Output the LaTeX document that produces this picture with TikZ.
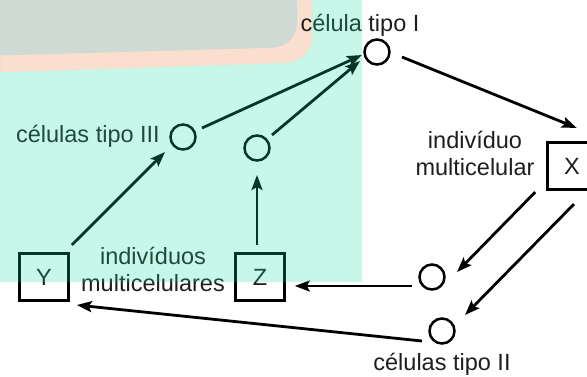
\documentclass[tikz,border=0pt]{standalone}
\usepackage{fontspec}
\setmainfont{Liberation Sans}
\usetikzlibrary{arrows.meta,calc}

\definecolor{mintov}{RGB}{26,218,159}
\definecolor{boardgray}{RGB}{206,218,211}
\definecolor{boardrim}{RGB}{250,222,206}
\definecolor{ink}{RGB}{30,30,30}

\tikzset{
    cel/.style={circle, draw, line width=2.5pt, minimum size=25pt, inner sep=0pt},
    ind/.style={rectangle, draw, line width=2.6pt, minimum width=49pt, minimum height=47.5pt, inner sep=0pt, text=ink},
    lbl/.style={text=ink, align=center, inner sep=0pt},
    seta/.style={line width=2.8pt, -{Stealth[length=15pt, width=11pt, inset=3pt]}}
}

\begin{document}
\begin{tikzpicture}[x=1pt, y=-1pt, font=\fontsize{23.5}{26.5}\selectfont]
        \useasboundingbox (0, 0) rectangle (587, 376);
        \clip (0, 0) rectangle (587, 376);

        % quadro no canto
        \fill[boardrim, rounded corners=26pt] (-20, -20) -- (312, -20) -- (312, 62) -- (-20, 73) -- cycle;
        \fill[boardgray, rounded corners=24pt] (-20, -20) -- (297, -20) -- (297, 47) -- (-20, 56) -- cycle;

        % celulas
        \node[cel] (cI) at (377, 52) {};
        \node[cel] (cIII) at (183, 137) {};
        \node[cel] (cIIIb) at (257, 148) {};
        \node[cel] (cIIa) at (432, 277) {};
        \node[cel] (cII) at (442, 331) {};

        % individuos
        \node[ind] (X) at (572, 166) {X};
        \node[ind] (Y) at (44, 277) {Y};
        \node[ind] (Z) at (260, 277) {Z};

        \node[lbl, anchor=base] (tI) at (360, 31) {célula tipo I};
        \node[lbl, anchor=base east] (tIII) at (160, 142) {células tipo III};
        \node[lbl, anchor=base] (tII) at (442, 370) {células tipo II};
        \node[lbl, anchor=base] (tX) at (475, 175) {indivíduo\\multicelular};
        \node[lbl, anchor=base] (tYZ) at (153, 291) {indivíduos\\multicelulares};

        \draw[seta] ($(cIII)+(19, -9)$) -- ($(cI)+(-15, 3)$);
        \draw[seta] ($(cIIIb)+(15, -13)$) -- ($(cI)+(-17, 9)$);
        \draw[seta] ($(Y.north east)+(2, -7)$) -- ($(cIII)+(-18, 15)$);
        \draw[seta] ($(Z.north)+(-3, -7)$) -- ($(cIIIb)+(0, 27)$);
        \draw[seta] ($(cI)+(25, 5)$) -- ($(X.north east)+(-21, -13)$);
        \draw[seta] ($(X.south west)+(-11, 1)$) -- ($(cIIa)+(25, -5)$);
        \draw[seta] ($(X.south)+(2, 13)$) -- ($(cII)+(23, -16)$);
        \draw[seta] ($(cIIa)+(-20, 9)$) -- ($(Z.east)+(9, 9)$);
        \draw[seta] ($(cII)+(-20, 10)$) -- ($(Y.south east)+(7, 3)$);

        % area verde por cima
        \fill[mintov, opacity=.24, even odd rule] (0, 0) rectangle (362, 282)
            [rounded corners=26pt] (-20, -20) -- (312, -20) -- (312, 62) -- (-20, 73) -- cycle;
    \end{tikzpicture}
\end{document}
